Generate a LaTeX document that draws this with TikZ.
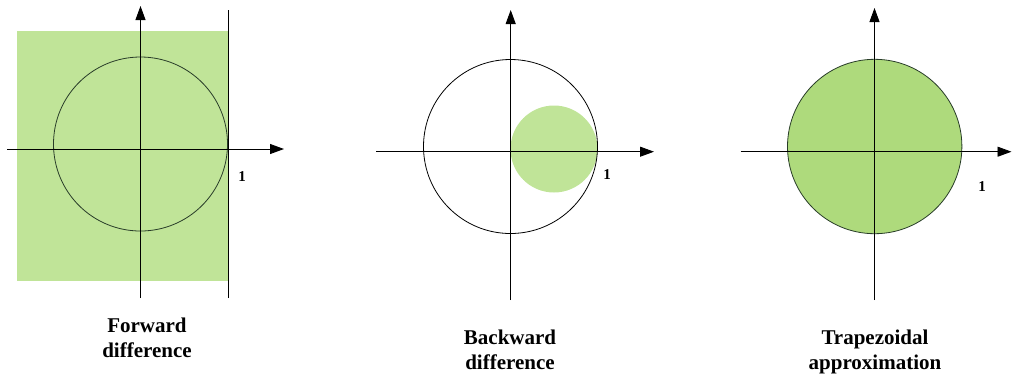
\documentclass[tikz,border=0pt]{standalone}
\usepackage{fontspec}
\setmainfont{Liberation Serif}
\definecolor{stable}{RGB}{192, 228, 152}
\definecolor{stabledark}{RGB}{174, 218, 124}
\definecolor{edge}{RGB}{40, 60, 40}
\usepackage{tikz}
\usetikzlibrary{arrows.meta, positioning}

\begin{document}
\begin{tikzpicture}[x=1pt, y=-1pt,
		axis/.style={-{Triangle[length=14pt, width=10pt]}, line width=0.9pt, color=black},
		region/.style={draw=none, fill=stable},
		unit/.style={draw=black, line width=0.8pt},
		caption/.style={anchor=north, inner sep=0pt, align=center,
			font=\fontsize{21}{25}\selectfont\bfseries},
		one/.style={inner sep=0pt, font=\fontsize{15}{17}\selectfont\bfseries}
		]
		\useasboundingbox (0,0) rectangle (1012,376);
		
		% Forward difference
		\fill[region] (17,31) rectangle (228,281);
		\draw[unit, draw=edge] (140.5,144) circle (87);
		\coordinate (fw b) at (140.5,298);
		\coordinate (fw t) at (140.5,6);
		\coordinate (fw l) at (7,149);
		\coordinate (fw r) at (284,149);
		\draw[axis] (fw b) -- (fw t);
		\draw[axis] (fw l) -- (fw r);
		\coordinate (fw lb) at (228,298);
		\coordinate (fw lt) at (228,10);
		\draw[line width=0.9pt] (fw lb) -- (fw lt);
		\node[one] (fw one) at (242,177) {1};
		\node[caption] (fw cap) at (147,318) {Forward\\difference};
		
		% Backward difference
		\fill[region] (554,149) circle (43.5);
		\draw[unit] (510.5,146.5) circle (87);
		\coordinate (bw b) at (510.7,300);
		\coordinate (bw t) at (510.7,10);
		\coordinate (bw l) at (376,151.7);
		\coordinate (bw r) at (654,151.7);
		\draw[axis] (bw b) -- (bw t);
		\draw[axis] (bw l) -- (bw r);
		\node[one] (bw one) at (607,175) {1};
		\node[caption] (bw cap) at (510,330) {Backward\\difference};
		
		% Trapezoidal approximation
		\draw[unit, fill=stabledark, draw=edge] (874.7,146.5) circle (87.2);
		\coordinate (tr b) at (874.5,300);
		\coordinate (tr t) at (874.5,8);
		\coordinate (tr l) at (740.7,151.7);
		\coordinate (tr r) at (1011.5,151.7);
		\draw[axis] (tr b) -- (tr t);
		\draw[axis] (tr l) -- (tr r);
		\node[one] (tr one) at (982,187) {1};
		\node[caption] (tr cap) at (875,330) {Trapezoidal\\approximation};
	\end{tikzpicture}
\end{document}
